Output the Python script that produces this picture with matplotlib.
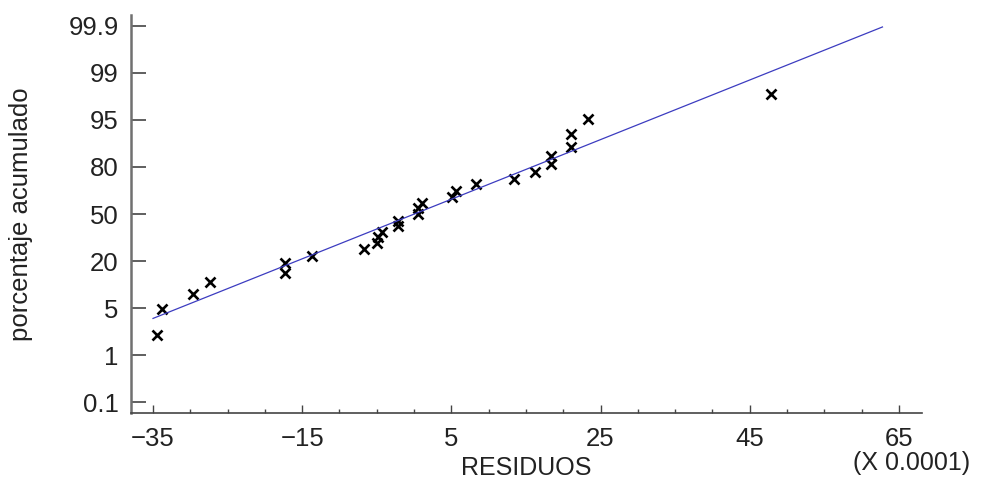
import numpy as np
import matplotlib
matplotlib.use('Agg')
import matplotlib.pyplot as plt
from matplotlib.ticker import MultipleLocator
from statistics import NormalDist

# residuos (x 0.0001) y porcentaje acumulado
residuos = [-34.5, -33.75, -29.6, -27.35, -17.3, -17.3, -13.7, -6.7, -5.0,
            -4.8, -4.3, -2.2, -2.2, 0.55, 0.55, 1.0, 5.05, 5.6, 8.25, 13.4,
            16.2, 18.3, 18.3, 21.1, 21.1, 23.35, 47.8]
porcentaje = [2.34, 5.93, 9.43, 13.3, 16.5, 20.9, 24.7, 28.1, 31.7, 35.3,
              38.6, 42.2, 45.4, 49.7, 53.7, 57.4, 61.3, 64.7, 68.7, 71.7,
              75.5, 79.3, 83.1, 86.3, 90.6, 94.1, 97.6]

# recta normal ajustada
fit_mean = 0.04
fit_std = 20.42
fit_range = [-35.0, 62.8]

x_ticks = [-35, -15, 5, 25, 45, 65]
y_tick_labels = ['0.1', '1', '5', '20', '50', '80', '95', '99', '99.9']

nd = NormalDist()
_inv = np.vectorize(nd.inv_cdf, otypes=[float])
_cdf = np.vectorize(nd.cdf, otypes=[float])


def to_z(p):
    p = np.clip(np.asarray(p, dtype=float) / 100.0, 1e-9, 1 - 1e-9)
    return _inv(p)


def from_z(z):
    return _cdf(np.asarray(z, dtype=float)) * 100.0


plt.rcParams['font.family'] = ['Liberation Sans', 'DejaVu Sans']

fig = plt.figure(figsize=(9.84, 4.82), dpi=100)
ax = fig.add_axes([131 / 984, 1 - 413 / 482, 791 / 984, 398 / 482])

ax.set_yscale('function', functions=(to_z, from_z))

# puntos
ax.plot(residuos, porcentaje, linestyle='none', marker='x', color='black',
        markersize=6.8, markeredgewidth=1.9)

# linea ajustada
lx = np.linspace(fit_range[0], fit_range[1], 60)
ly = from_z((lx - fit_mean) / fit_std)
ax.plot(lx, ly, color='#3c3cc0', linewidth=0.9)

ax.set_xlim(-37.95, 68.1)
z_lim = 3.27
ax.set_ylim(float(from_z(-z_lim)), float(from_z(z_lim)))

# ticks en y igualmente espaciados en z
z_step = nd.inv_cdf(0.999) / 4
y_tick_pos = [float(from_z(k * z_step)) for k in range(-4, 5)]
ax.set_yticks(y_tick_pos)
ax.set_yticklabels(y_tick_labels)
ax.yaxis.set_minor_locator(plt.NullLocator())

ax.set_xticks(x_ticks)
ax.xaxis.set_minor_locator(MultipleLocator(5))

for s in ['top', 'right']:
    ax.spines[s].set_visible(False)
ax.spines['left'].set_color('#707070')
ax.spines['left'].set_linewidth(1.8)
ax.spines['bottom'].set_color('#444444')
ax.spines['bottom'].set_linewidth(1.2)

ax.tick_params(axis='y', direction='in', length=11, width=1.2, color='#444444',
               labelsize=18.5, labelcolor='#222222', pad=9)
ax.tick_params(axis='x', which='major', direction='in', length=6, width=1.0,
               color='#444444', labelsize=18.5, labelcolor='#222222', pad=10)
ax.tick_params(axis='x', which='minor', direction='in', length=3, width=1.0,
               color='#444444')

ax.set_xlabel('RESIDUOS', fontsize=18, color='#222222')
ax.xaxis.set_label_coords(0.5, -0.138)
ax.xaxis.label.set_va('center')
ax.set_ylabel('porcentaje acumulado', fontsize=18.5, color='#222222')
ax.yaxis.set_label_coords(-0.124, 0.5)

fig.text(912 / 984, 1 - 463 / 482, '(X 0.0001)', fontsize=18, color='#222222',
         ha='center', va='center')

fig.savefig('out.png', dpi=100)
